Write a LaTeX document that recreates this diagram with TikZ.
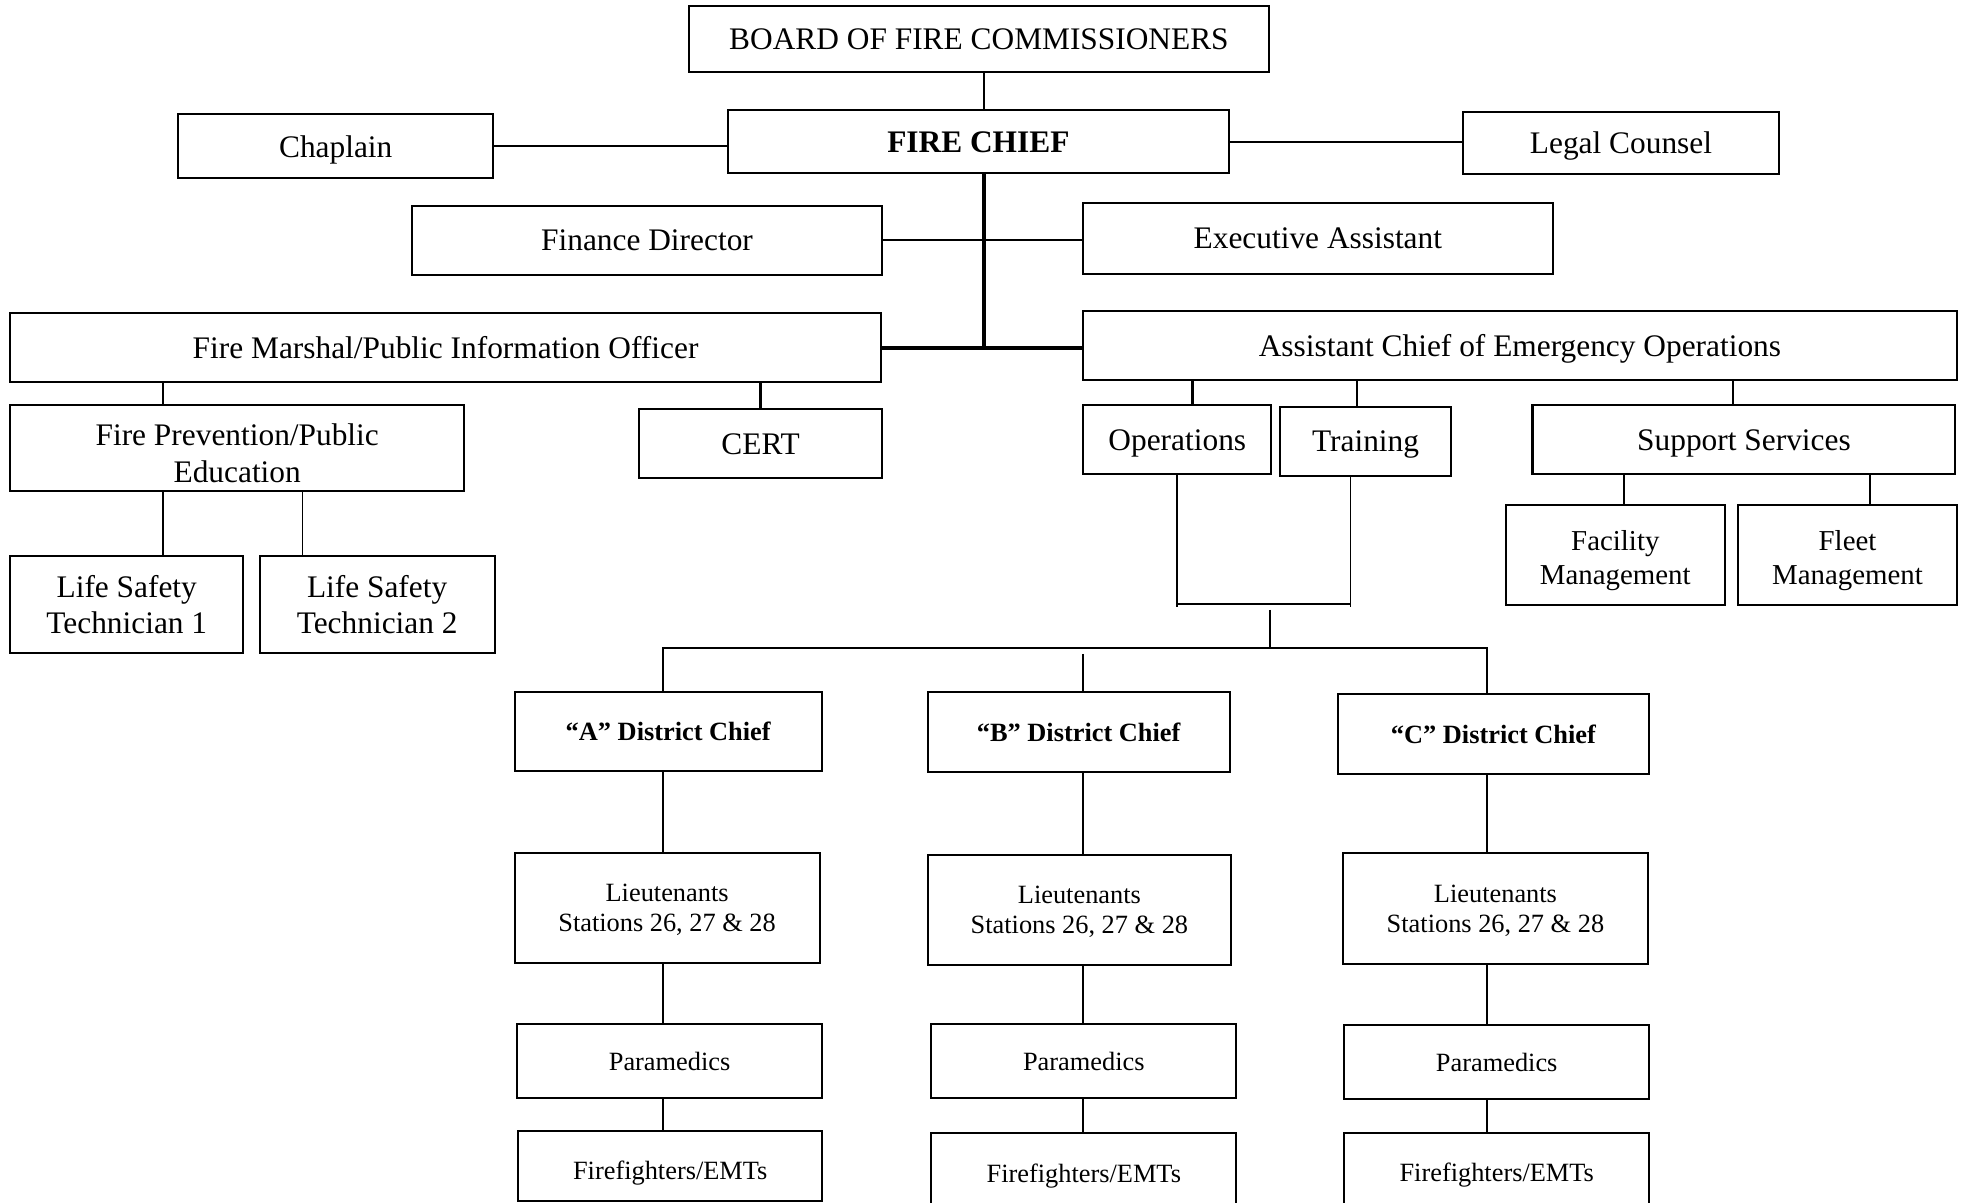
\documentclass[tikz,border=0pt]{standalone}
\usepackage{fontspec}
\setmainfont{Liberation Serif}
\usetikzlibrary{positioning, calc}

\begin{document}
\begin{tikzpicture}[x=1pt, y=-1pt,
	box/.style={draw, fill=white, line width=1.6pt, align=center, inner sep=0pt, text depth=0pt, font=\fontsize{25}{29}\selectfont},
	dbox/.style={box, font=\fontsize{21}{24}\selectfont},
	link/.style={line width=1.5pt},
	trunk/.style={line width=3pt}]
			\useasboundingbox (0,0) rectangle (1568,958);

			\node (0) at (780, 31) [box, minimum width=462, minimum height=52] {BOARD OF FIRE COMMISSIONERS};
			\node (1) at (779.5, 113) [box, minimum width=399, minimum height=50] {\textbf{FIRE CHIEF}};
			\node (2) at (267.5, 116.5) [box, minimum width=251, minimum height=51] {Chaplain};
			\node (3) at (1291.5, 114) [box, minimum width=251, minimum height=50] {Legal Counsel};
			\node (4) at (515.5, 191.5) [box, minimum width=375, minimum height=55] {Finance Director};
			\node (5) at (1050, 190) [box, minimum width=374, minimum height=56] {Executive Assistant};
			\node (6) at (355, 276.5) [box, minimum width=694, minimum height=55] {Fire Marshal/Public Information Officer};
			\node (7) at (1211, 275.5) [box, minimum width=696, minimum height=55] {Assistant Chief of Emergency Operations};
			\node (8) at (189, 357) [box, minimum width=362, minimum height=68] {\raisebox{-4pt}[\height][\depth]{Fire Prevention/Public}\\\raisebox{-4pt}[\height][\depth]{Education}};
			\node (9) at (606, 353.5) [box, minimum width=194, minimum height=55] {CERT};
			\node (10) at (938, 350.5) [box, minimum width=150, minimum height=55] {Operations};
			\node (11) at (1088, 351.5) [box, minimum width=136, minimum height=55] {Training};
			\node (12) at (1389.5, 350.5) [box, minimum width=337, minimum height=55] {Support Services};
			\node (13) at (1287, 442) [box, minimum width=174, minimum height=80, font=\fontsize{23}{27}\selectfont] {\raisebox{-2pt}[\height][\depth]{Facility}\\\raisebox{-2pt}[\height][\depth]{Management}};
			\node (14) at (1472, 442) [box, minimum width=174, minimum height=80, font=\fontsize{23}{27}\selectfont] {\raisebox{-2pt}[\height][\depth]{Fleet}\\\raisebox{-2pt}[\height][\depth]{Management}};
			\node (15) at (101, 481.5) [box, minimum width=186, minimum height=77] {Life Safety\\Technician 1};
			\node (16) at (300.5, 481.5) [box, minimum width=187, minimum height=77] {Life Safety\\Technician 2};

			\node (17) at (532.5, 582.5) [dbox, minimum width=245, minimum height=63] {\textbf{“A” District Chief}};
			\node (18) at (859.5, 583) [dbox, minimum width=241, minimum height=64] {\textbf{“B” District Chief}};
			\node (19) at (1190, 585) [dbox, minimum width=248, minimum height=64] {\textbf{“C” District Chief}};
			\node (20) at (531.5, 723.5) [dbox, minimum width=243, minimum height=87] {Lieutenants\\Stations 26, 27 \& 28};
			\node (21) at (860, 725) [dbox, minimum width=242, minimum height=88] {Lieutenants\\Stations 26, 27 \& 28};
			\node (22) at (1191.5, 724) [dbox, minimum width=243, minimum height=88] {Lieutenants\\Stations 26, 27 \& 28};
			\node (23) at (533.5, 845.5) [dbox, minimum width=243, minimum height=59] {Paramedics};
			\node (24) at (863.5, 845.5) [dbox, minimum width=243, minimum height=59] {Paramedics};
			\node (25) at (1192.5, 846.5) [dbox, minimum width=243, minimum height=59] {Paramedics};
			\node (26) at (534, 929) [dbox, minimum width=242, minimum height=56] {\raisebox{-3pt}[\height][\depth]{Firefighters/EMTs}};
			\node (27) at (863.5, 935) [dbox, minimum width=243, minimum height=64] {Firefighters/EMTs};
			\node (28) at (1192.5, 934) [dbox, minimum width=243, minimum height=62] {Firefighters/EMTs};

			% junction points
			\coordinate (a) at (784, 191.5);
			\coordinate (b) at (784, 277);
			\coordinate (c1) at (130, 0);
			\coordinate (c2) at (241, 0);
			\coordinate (c3) at (950, 0);
			\coordinate (c4) at (1081, 0);
			\coordinate (c5) at (1381, 0);
			\coordinate (c6) at (1294, 0);
			\coordinate (c7) at (1490, 0);
			\coordinate (d1) at (938, 484);
			\coordinate (d2) at (1076, 484);
			\coordinate (e1) at (1012, 486);
			\coordinate (e2) at (1012, 516);
			\coordinate (e3) at (863, 521);
			\coordinate (cA) at (528, 0);
			\coordinate (cB) at (863, 0);
			\coordinate (cC) at (1185, 0);

			\draw[link] (0.south -| a) -- (1.north -| a);
			\draw[trunk] (1.south -| a) -- (b);
			\draw[link] (2.east) -- (1.west |- 2.east);
			\draw[link] (1.east) -- (3.west |- 1.east);
			\draw[link] (4.east) -- (5.west |- 4.east);
			\draw[trunk] (6.east |- b) -- (7.west |- b);

			\draw[link] (6.south -| c1) -- (8.north -| c1);
			\draw[line width=2.2pt] (6.south -| 9) -- (9.north);
			\draw[link] (8.south -| c1) -- (15.north -| c1);
			\draw[link] (8.south -| c2) -- (16.north -| c2);

			\draw[line width=2.4pt] (7.south -| c3) -- (10.north -| c3);
			\draw[link] (7.south -| c4) -- (11.north -| c4);
			\draw[link] (7.south -| c5) -- (12.north -| c5);
			\draw[link] (12.south -| c6) -- (13.north -| c6);
			\draw[link] (12.south -| c7) -- (14.north -| c7);

			\draw[link] (10.south) -- (d1);
			\draw[link] (11.south -| d2) -- (d2);
			\draw[link] ([yshift=3pt]d1) -- ([yshift=3pt]d2);
			\draw[link] (e1) -- (e2);
			\draw[link] (17.north -| cA) -- (cA |- e2) -- (cC |- e2) -- (19.north -| cC);
			\draw[link] (e3) -- (18.north -| e3);

			\draw[link] (17.south -| cA) -- (20.north -| cA);
			\draw[link] (18.south -| cB) -- (21.north -| cB);
			\draw[link] (19.south -| cC) -- (22.north -| cC);
			\draw[link] (20.south -| cA) -- (23.north -| cA);
			\draw[link] (21.south -| cB) -- (24.north -| cB);
			\draw[link] (22.south -| cC) -- (25.north -| cC);
			\draw[link] (23.south -| cA) -- (26.north -| cA);
			\draw[link] (24.south -| cB) -- (27.north -| cB);
			\draw[link] (25.south -| cC) -- (28.north -| cC);
		\end{tikzpicture}
\end{document}
